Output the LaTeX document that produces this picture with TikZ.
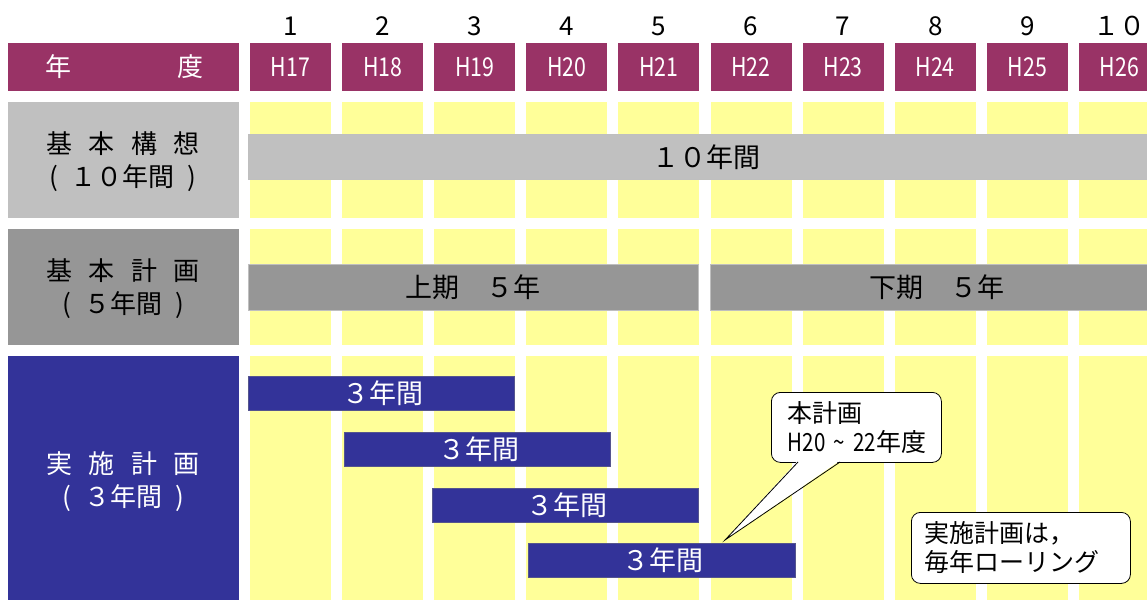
\documentclass[tikz,border=0pt]{standalone}
\usepackage{fontspec}
\setmainfont{Noto Sans CJK JP}
\newfontfamily\narrow[FakeStretch=0.82]{Noto Sans CJK JP}
\definecolor{hdr}{HTML}{993366}
\definecolor{ylw}{HTML}{FFFF99}
\definecolor{gA}{HTML}{C0C0C0}
\definecolor{gB}{HTML}{969696}
\definecolor{blu}{HTML}{333399}
\newcommand{\lsp}{\hspace{0.63em}}
\newcommand{\psp}{\hspace{0.5em}}
\begin{document}
\begin{tikzpicture}[x=1pt,y=-1pt,
  cell/.style={rectangle,inner sep=0pt,outer sep=0pt,anchor=north west},
  big/.style={font=\fontsize{27}{33}\selectfont},
  lab/.style={font=\fontsize{26}{33}\selectfont,align=center},
  bubble/.style={rectangle,draw=black,fill=white,rounded corners=9pt,line width=0.8pt,
     anchor=north west,inner sep=0pt,align=left,font=\fontsize{25}{29}\selectfont},
  gbar/.style={cell,draw=black!25,line width=0.6pt},
  bbar/.style={cell,fill=blu,draw=blu!55!gray,line width=0.6pt}]
\clip (0,0) rectangle (1147,600);
\fill[white] (0,0) rectangle (1147,600);
% left column
\node[cell,fill=hdr,minimum width=231pt,minimum height=48pt] (hL) at (8,43) {};
\node[text=white,lab] (hY) at (58,67) {年};
\node[text=white,lab] (hD) at (190,67) {度};
\node[cell,fill=gA,minimum width=231pt,minimum height=116pt] (L1) at (8,102) {};
\node[lab] (L1t) at (123,162) {基\lsp 本\lsp 構\lsp 想\\(\psp １０年間\psp)};
\node[cell,fill=gB,minimum width=231pt,minimum height=116pt] (L2) at (8,229) {};
\node[lab] (L2t) at (123,289) {基\lsp 本\lsp 計\lsp 画\\(\psp ５年間\psp)};
\node[cell,fill=blu,minimum width=231pt,minimum height=244pt] (L3) at (8,356) {};
\node[lab,text=white] (L3t) at (123,482) {実\lsp 施\lsp 計\lsp 画\\(\psp ３年間\psp)};
% columns
\foreach \i/\n/\h in {1/1/17,2/2/18,3/3/19,4/4/20,5/5/21,6/6/22,7/7/23,8/8/24,9/9/25,10/{１０}/26}{
  \pgfmathsetmacro\cx{250+92.1*(\i-1)}
  \node[font=\fontsize{26}{30}\selectfont] (n\i) at (\cx+40.5,26) {\n};
  \node[cell,fill=hdr,minimum width=81pt,minimum height=48pt] (h\i) at (\cx,43) {};
  \node[text=white,font=\narrow\fontsize{26}{30}\selectfont] (ht\i) at (\cx+40.5,67) {H\h};
  \node[cell,fill=ylw,minimum width=81pt,minimum height=116pt] (ya\i) at (\cx,102) {};
  \node[cell,fill=ylw,minimum width=81pt,minimum height=116pt] (yb\i) at (\cx,229) {};
  \node[cell,fill=ylw,minimum width=81pt,minimum height=244pt] (yc\i) at (\cx,356) {};
}
% bars
\node[gbar,fill=gA,minimum width=910pt,minimum height=45pt] (B1) at (248,134) {};
\node[big] (B1t) at (706,157) {１０年間};
\node[gbar,fill=gB,minimum width=450pt,minimum height=46pt] (B2a) at (248,264) {};
\node[big] (B2at) at (473,287) {上期\hspace{1em}５年};
\node[gbar,fill=gB,minimum width=450pt,minimum height=46pt] (B2b) at (710,264) {};
\node[big] (B2bt) at (937,287) {下期\hspace{1em}５年};
\node[bbar,minimum width=266pt,minimum height=34pt] (C1) at (248,376) {};
\node[big,text=white] (C1t) at (383,393) {３年間};
\node[bbar,minimum width=266pt,minimum height=34pt] (C2) at (344,432) {};
\node[big,text=white] (C2t) at (479,449) {３年間};
\node[bbar,minimum width=266pt,minimum height=34pt] (C3) at (432,488) {};
\node[big,text=white] (C3t) at (567,505) {３年間};
\node[bbar,minimum width=267pt,minimum height=34pt] (C4) at (528,543) {};
\node[big,text=white] (C4t) at (663,560) {３年間};
% callout 1
\node[bubble,minimum width=170pt,minimum height=70pt,text width=159pt] (cb1) at (771,392) {\hspace*{11pt}本計画\\\hspace*{11pt}{\narrow H20 \textasciitilde{} 22}年度};
\coordinate (tip) at (725,540);
\coordinate (b1) at (798,462);
\coordinate (b2) at (840,462);
\fill[white] (798,460.5) -- (tip) -- (840,460.5) -- cycle;
\draw[line width=0.8pt,line join=miter] (b1) -- (tip) -- (b2);
% callout 2
\node[bubble,minimum width=219pt,minimum height=71pt,text width=210pt] (cb2) at (911,512) {\hspace*{9pt}実施計画は，\\\hspace*{9pt}毎年ローリング};
\end{tikzpicture}
\end{document}
